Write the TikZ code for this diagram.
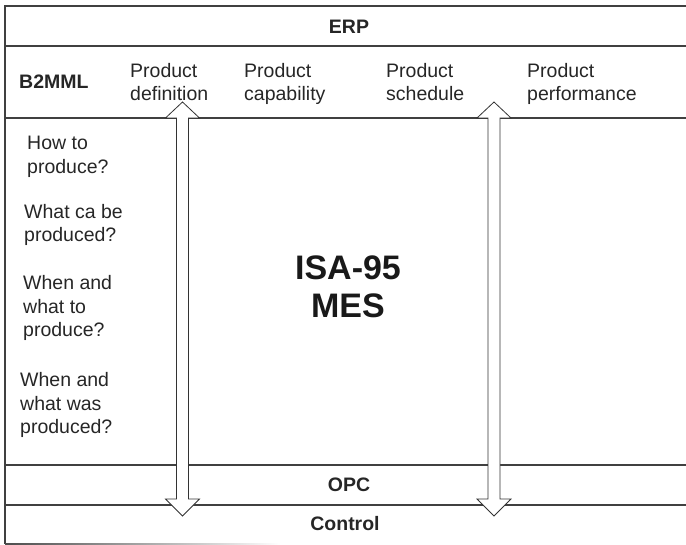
\documentclass[tikz,border=0pt]{standalone}
\usepackage{fontspec}
\setmainfont{Liberation Sans}
\usetikzlibrary{positioning}

\begin{document}
\begin{tikzpicture}[x=1pt,y=-1pt,
    txt node/.style={inner sep=0pt,text=black!85,font=\fontsize{19.5}{23.5}\selectfont},
    bold node/.style={txt node,font=\fontsize{19.5}{23.5}\selectfont\bfseries},
    big node/.style={inner sep=0pt,text=black!90,align=center,font=\fontsize{34}{38}\selectfont\bfseries},
    left node/.style={txt node,align=left,anchor=west},
    strut node/.style={left node,execute at begin node=\strut,execute at end node=\strut},
    frame line/.style={line width=1.1pt,draw=black!75},
    block arrow/.style={line width=0.8pt,draw=black!80,fill=white}]

  \useasboundingbox (0,0) rectangle (686,545);

  % frame and rows
  \draw[frame line] (686,6) -- (5,6) -- (5,544);
  \draw[frame line] (5,46) -- (686,46);
  \draw[frame line] (5,118) -- (686,118);
  \draw[frame line] (5,465) -- (686,465);
  \draw[frame line] (5,505) -- (686,505);
  \shade[left color=black!70,right color=white] (5,543.4) rectangle (280,544.6);

  % two way arrows
  \draw[block arrow] (182.5,102) -- (199.5,118) -- (188.5,118) -- (188.5,499) -- (199.5,499)
     -- (182.5,516) -- (165.5,499) -- (176.5,499) -- (176.5,118) -- (165.5,118) -- cycle;
  \draw[block arrow] (494,102) -- (511,118) -- (500,118) -- (500,499) -- (511,499)
     -- (494,516) -- (477,499) -- (488,499) -- (488,118) -- (477,118) -- cycle;

  % rows
  \node[bold node] (erp) at (349,27) {ERP};
  \node[bold node,anchor=west] (b2mml) at (19,82) {B2MML};
  \node[strut node] (pdef) at (130,85.5) {Product\\definition};
  \node[strut node] (pcap) at (244,85.5) {Product\\capability};
  \node[strut node] (psch) at (386,85.5) {Product\\schedule};
  \node[strut node] (pperf) at (527,85.5) {Product\\performance};
  \node[bold node] (opc) at (349,485) {OPC};
  \node[bold node] (ctrl) at (345,524) {Control};

  % questions
  \node[left node] (q1) at (27,157) {How to\\produce?};
  \node[left node] (q2) at (24,225) {What ca be\\produced?};
  \node[left node] (q3) at (23,308) {When and\\what to\\produce?};
  \node[left node] (q4) at (20,405) {When and\\what was\\produced?};

  \node[big node] (mes) at (348,287) {ISA-95\\MES};
\end{tikzpicture}
\end{document}
